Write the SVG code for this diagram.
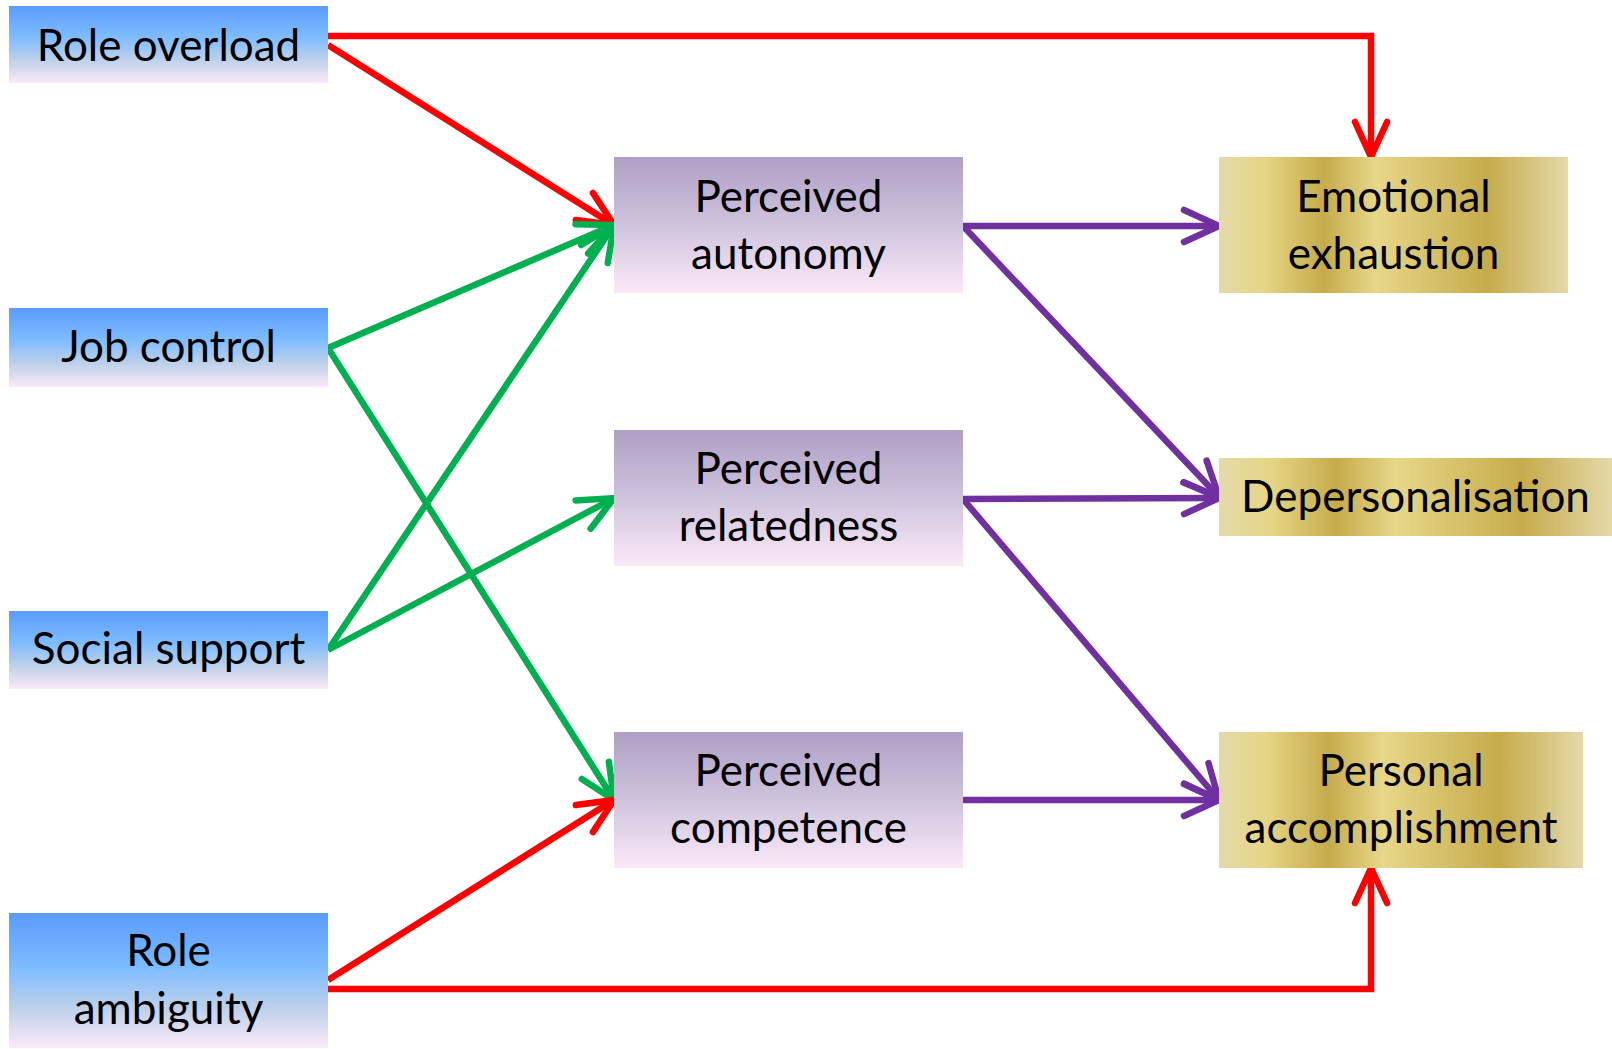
<svg xmlns="http://www.w3.org/2000/svg" width="1612" height="1049" viewBox="0 0 1612 1049">
<defs>
<linearGradient id="gBlue" x1="0" y1="0" x2="0" y2="1">
<stop offset="0" stop-color="#5A9BFD"/>
<stop offset="0.4" stop-color="#7DBCFF"/>
<stop offset="0.7" stop-color="#BDD0EA"/>
<stop offset="1" stop-color="#FBE9F8"/>
</linearGradient>
<linearGradient id="gPurple" x1="0" y1="0" x2="0" y2="1">
<stop offset="0" stop-color="#B09FC6"/>
<stop offset="0.5" stop-color="#CEC3DD"/>
<stop offset="1" stop-color="#FBE9F7"/>
</linearGradient>
<linearGradient id="gGold" x1="0" y1="0" x2="1" y2="0">
<stop offset="0" stop-color="#E4DAAA"/>
<stop offset="0.13" stop-color="#E5D585"/>
<stop offset="0.3" stop-color="#C6AB4B"/>
<stop offset="0.45" stop-color="#E7D789"/>
<stop offset="0.77" stop-color="#C6AB4B"/>
<stop offset="1" stop-color="#E4D9AA"/>
</linearGradient>
<marker id="aRed" markerUnits="userSpaceOnUse" viewBox="-40 -22 50 44" refX="0" refY="0" markerWidth="50" markerHeight="44" orient="auto" overflow="visible">
<path d="M -31 -16 L 4 0 L -31 16" fill="none" stroke="#FF0000" stroke-width="6.5" stroke-linecap="round" stroke-linejoin="miter"/>
</marker>
<marker id="aGreen" markerUnits="userSpaceOnUse" viewBox="-40 -22 50 44" refX="0" refY="0" markerWidth="50" markerHeight="44" orient="auto" overflow="visible">
<path d="M -31 -16 L 4 0 L -31 16" fill="none" stroke="#00B050" stroke-width="6.5" stroke-linecap="round" stroke-linejoin="miter"/>
</marker>
<marker id="aPurple" markerUnits="userSpaceOnUse" viewBox="-40 -22 50 44" refX="0" refY="0" markerWidth="50" markerHeight="44" orient="auto" overflow="visible">
<path d="M -31 -16 L 4 0 L -31 16" fill="none" stroke="#7030A0" stroke-width="6.5" stroke-linecap="round" stroke-linejoin="miter"/>
</marker>
</defs>
<style>
text { font-family: Lato, "Liberation Sans", sans-serif; font-size: 44px; fill: #000; text-anchor: middle; }
.blue { fill: url(#gBlue); }
.purple { fill: url(#gPurple); }
.gold { fill: url(#gGold); }
.c { fill: none; stroke-width: 6.5; }
.red { stroke: #FF0000; marker-end: url(#aRed); }
.green { stroke: #00B050; marker-end: url(#aGreen); }
.vio { stroke: #7030A0; marker-end: url(#aPurple); }
</style>
<rect width="1612" height="1049" fill="#FFFFFF"/>

<g id="connectors">
<path class="c red" d="M 328 36 H 1371 V 153"/>
<path class="c red" d="M 328 45 L 610.6 222.9"/>
<path class="c green" d="M 328 348 L 610.3 226.6"/>
<path class="c green" d="M 328 348 L 611.9 796.6"/>
<path class="c green" d="M 328 650 L 611.8 228.3"/>
<path class="c green" d="M 328 650 L 610.5 500"/>
<path class="c red" d="M 328 980 L 610.6 802.1"/>
<path class="c red" d="M 328 989 H 1371 V 872"/>
<path class="c vio" d="M 963 226 L 1215 226"/>
<path class="c vio" d="M 963 226 L 1216.3 494.1"/>
<path class="c vio" d="M 963 499 L 1215 498"/>
<path class="c vio" d="M 963 499 L 1216.4 797"/>
<path class="c vio" d="M 963 800 L 1215 800"/>
</g>

<g id="role-overload">
<rect class="blue" x="9" y="6" width="319" height="77"/>
<text x="168.5" y="61">Role overload</text>
</g>
<g id="job-control">
<rect class="blue" x="9" y="308" width="319" height="79"/>
<text x="168.5" y="362">Job control</text>
</g>
<g id="social-support">
<rect class="blue" x="9" y="611" width="319" height="78"/>
<text x="168.5" y="664">Social support</text>
</g>
<g id="role-ambiguity">
<rect class="blue" x="9" y="913" width="319" height="135"/>
<text x="168.5" y="966">Role</text>
<text x="168.5" y="1024">ambiguity</text>
</g>

<g id="perceived-autonomy">
<rect class="purple" x="614" y="157" width="349" height="136"/>
<text x="788.5" y="212">Perceived</text>
<text x="788.5" y="269">autonomy</text>
</g>
<g id="perceived-relatedness">
<rect class="purple" x="614" y="430" width="349" height="136"/>
<text x="788.5" y="484">Perceived</text>
<text x="788.5" y="541">relatedness</text>
</g>
<g id="perceived-competence">
<rect class="purple" x="614" y="732" width="349" height="136"/>
<text x="788.5" y="786">Perceived</text>
<text x="788.5" y="843">competence</text>
</g>

<g id="emotional-exhaustion">
<rect class="gold" x="1219" y="157" width="349" height="136"/>
<text x="1393.5" y="212">Emotional</text>
<text x="1393.5" y="269">exhaustion</text>
</g>
<g id="depersonalisation">
<rect class="gold" x="1219" y="458" width="393" height="78"/>
<text x="1415.5" y="512">Depersonalisation</text>
</g>
<g id="personal-accomplishment">
<rect class="gold" x="1219" y="732" width="364" height="136"/>
<text x="1401" y="786">Personal</text>
<text x="1401" y="843">accomplishment</text>
</g>
</svg>
